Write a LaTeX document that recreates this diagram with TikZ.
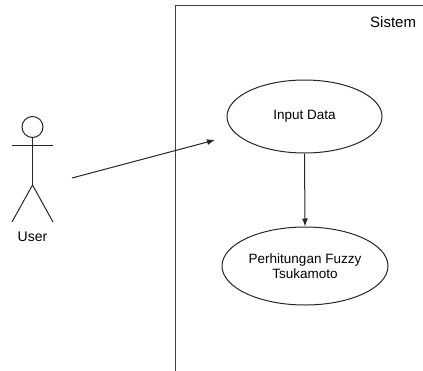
\documentclass[tikz,border=0pt]{standalone}
\usepackage{fontspec}
\setmainfont{Liberation Sans}
\usetikzlibrary{positioning,shapes.geometric,arrows.meta}

\tikzset{
    usecase/.style={ellipse, draw=black!85, line width=1pt, align=center,
        font=\fontsize{13.5}{15.5}\selectfont, inner sep=0pt},
    stick/.style={draw=black!85, line width=1pt},
    link/.style={draw=black!85, line width=1pt, -{Latex[length=8pt,width=6pt]}}
}

\begin{document}
\begin{tikzpicture}[x=1pt,y=-1pt]
\useasboundingbox (0,0) rectangle (423,370);

% System boundary, open to the right and bottom
\draw[draw=black!75, line width=1pt] (424,5) -- (175,5) -- (175,371);
\node[anchor=base west, inner sep=0pt, font=\fontsize{15}{17}\selectfont] (sistem) at (370,27) {Sistem};

% Actor
\draw[stick] (32.5,127) circle (10.5);
\draw[stick] (32.5,137.5) -- (32.5,185);
\draw[stick] (12,145) -- (53,145);
\draw[stick] (12,222) -- (32.5,185) -- (53,222);
\node[font=\fontsize{14}{16}\selectfont] (user) at (32.5,237) {User};

% Use cases
\node[usecase, minimum width=155pt, minimum height=73pt] (input) at (304.5,116.5) {Input Data};
\node[usecase, minimum width=166pt, minimum height=78pt] (hitung) at (305,266)
    {Perhitungan Fuzzy\\Tsukamoto};

% Associations
\coordinate (hand) at (72,178);
\coordinate (tip) at (215,140);
\draw[link] (hand) -- (tip);
\draw[link] (input.south) -- (hitung.north);
\end{tikzpicture}
\end{document}
